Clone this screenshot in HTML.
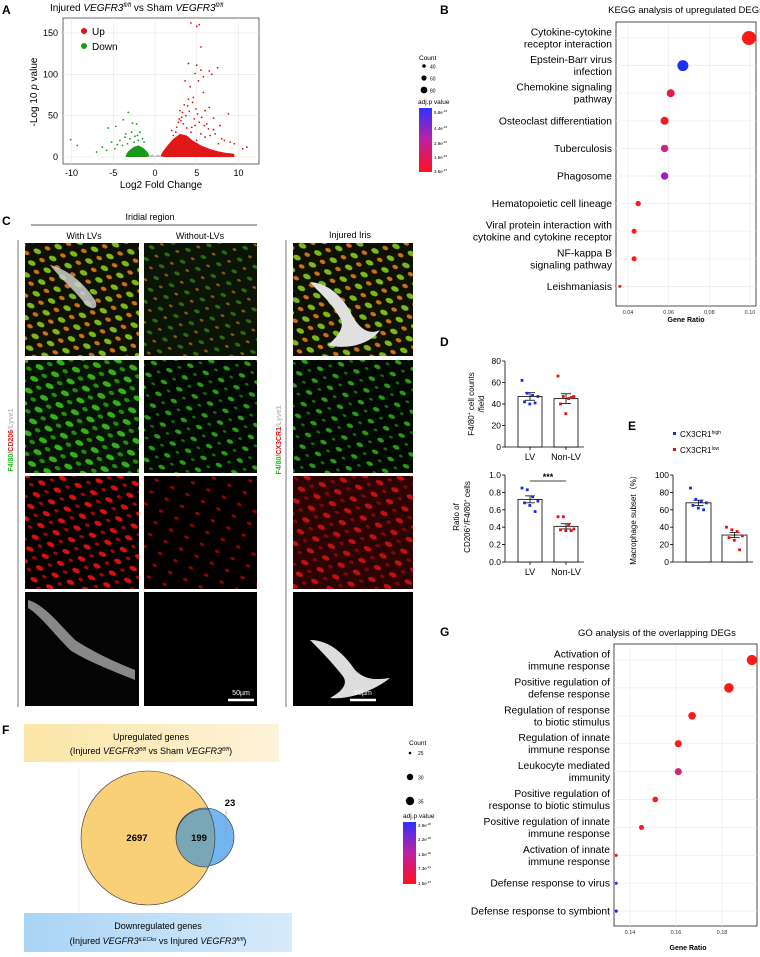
<!DOCTYPE html>
<html><head><meta charset="utf-8"><style>
body{margin:0;background:#fff;}
svg text{font-family:"Liberation Sans",sans-serif;}
</style></head><body>
<svg id="fig" width="760" height="952" viewBox="0 0 760 952" xmlns="http://www.w3.org/2000/svg">
<defs>
<linearGradient id="gB" x1="0" y1="0" x2="0" y2="1"><stop offset="0" stop-color="#3030ff"/><stop offset="0.5" stop-color="#c020a0"/><stop offset="1" stop-color="#ff1020"/></linearGradient>
<linearGradient id="yel" x1="0" y1="0" x2="1" y2="0"><stop offset="0" stop-color="#fbe6a6"/><stop offset="1" stop-color="#fdf3da"/></linearGradient>
<linearGradient id="blu" x1="0" y1="0" x2="1" y2="0"><stop offset="0" stop-color="#a9d3f5"/><stop offset="1" stop-color="#d6ebfb"/></linearGradient>
<pattern id="pGreenDense" width="17" height="13" patternUnits="userSpaceOnUse" patternTransform="rotate(25)"><rect width="17" height="13" fill="#061204"/><ellipse cx="4" cy="4" rx="4.5" ry="2.5" fill="#34b018"/><ellipse cx="12" cy="10" rx="3" ry="2" fill="#238a10"/></pattern>
<pattern id="pMerge1" width="17" height="13" patternUnits="userSpaceOnUse" patternTransform="rotate(25)"><rect width="17" height="13" fill="#0e1002"/><ellipse cx="4" cy="4" rx="4" ry="2.5" fill="#7cb81a"/><ellipse cx="12" cy="10" rx="3" ry="2" fill="#c8701a"/></pattern>
<pattern id="pMerge2" width="17" height="13" patternUnits="userSpaceOnUse" patternTransform="rotate(25)"><rect width="17" height="13" fill="#0a1505"/><ellipse cx="4" cy="4" rx="3" ry="1.8" fill="#2e6a12"/><ellipse cx="12" cy="10" rx="2" ry="1.3" fill="#8a5a12"/></pattern>
<pattern id="pGreenSparse" width="17" height="13" patternUnits="userSpaceOnUse" patternTransform="rotate(25)"><rect width="17" height="13" fill="#020802"/><ellipse cx="4" cy="4" rx="3.5" ry="2" fill="#2a9a16"/><ellipse cx="12" cy="10" rx="2" ry="1.3" fill="#186e0e"/></pattern>
<pattern id="pRedDense" width="17" height="13" patternUnits="userSpaceOnUse" patternTransform="rotate(25)"><rect width="17" height="13" fill="#030000"/><ellipse cx="4" cy="4" rx="4" ry="2.3" fill="#d81010"/><ellipse cx="12" cy="10" rx="2.5" ry="1.6" fill="#a00808"/></pattern>
<pattern id="pRedSparse" width="17" height="13" patternUnits="userSpaceOnUse" patternTransform="rotate(25)"><rect width="17" height="13" fill="#040000"/><ellipse cx="5" cy="5" rx="2.5" ry="1.5" fill="#8a0606"/></pattern>
<pattern id="pRedIris" width="17" height="13" patternUnits="userSpaceOnUse" patternTransform="rotate(25)"><rect width="17" height="13" fill="#2c0303"/><ellipse cx="4" cy="4" rx="4" ry="2.3" fill="#c01010"/><ellipse cx="12" cy="10" rx="2.5" ry="1.6" fill="#7a0808"/></pattern>
<clipPath id="cA"><rect x="63" y="18" width="196" height="146"/></clipPath>
</defs>

<!-- ===== Panel A ===== -->
<g>
<text x="2" y="14" font-size="12" font-weight="bold">A</text>
<text x="50" y="11" font-size="10">Injured <tspan font-style="italic">VEGFR3</tspan><tspan font-style="italic" font-size="6" dy="-4">fl/fl</tspan><tspan dy="4"> vs Sham </tspan><tspan font-style="italic">VEGFR3</tspan><tspan font-style="italic" font-size="6" dy="-4">fl/fl</tspan></text>
<rect x="63" y="18" width="196" height="146" fill="#fff" stroke="#444" stroke-width="0.8"/>
<g id="aGrid"></g>
<g id="aMarks" clip-path="url(#cA)"></g>
<g id="aAxes"></g>
<circle cx="84" cy="31" r="3" fill="#e01010"/>
<text x="92" y="35" font-size="10">Up</text>
<circle cx="84" cy="46" r="3" fill="#1a9a1a"/>
<text x="92" y="50" font-size="10">Down</text>
<text x="161" y="188" font-size="10" text-anchor="middle">Log2 Fold Change</text>
<text transform="translate(37,92) rotate(-90)" font-size="10" text-anchor="middle">-Log 10 <tspan font-style="italic">p</tspan> value</text>
</g>

<!-- ===== Panel B ===== -->
<g>
<text x="440" y="14" font-size="12" font-weight="bold">B</text>
<text x="686" y="13" font-size="9.5" text-anchor="middle">KEGG analysis of upregulated DEGs</text>
<rect x="616" y="22" width="140" height="284" fill="#fff" stroke="#222" stroke-width="0.8"/>
<g id="bPlot"></g>
<text x="686" y="322" font-size="7" font-weight="bold" text-anchor="middle">Gene Ratio</text>
<g>
<text x="419" y="60" font-size="6.5">Count</text>
<circle cx="424" cy="66" r="1.8" fill="#000"/><text x="430" y="68.5" font-size="5">40</text>
<circle cx="424" cy="78" r="2.6" fill="#000"/><text x="430" y="80.5" font-size="5">60</text>
<circle cx="424" cy="90" r="3.4" fill="#000"/><text x="430" y="92.5" font-size="5">80</text>
<text x="418" y="104" font-size="6.5">adj.p value</text>
<rect x="419" y="108" width="13" height="64" fill="url(#gB)"/>
<text x="434" y="114" font-size="4.5">5.8e<tspan font-size="3" dy="-2">-15</tspan></text>
<text x="434" y="130" font-size="4.5">4.4e<tspan font-size="3" dy="-2">-15</tspan></text>
<text x="434" y="145" font-size="4.5">2.9e<tspan font-size="3" dy="-2">-15</tspan></text>
<text x="434" y="159" font-size="4.5">1.5e<tspan font-size="3" dy="-2">-15</tspan></text>
<text x="434" y="173" font-size="4.5">3.6e<tspan font-size="3" dy="-2">-27</tspan></text>
</g>
</g>

<!-- ===== Panel C ===== -->
<g>
<text x="2" y="225" font-size="12" font-weight="bold">C</text>
<text x="150" y="220" font-size="9" text-anchor="middle">Iridial region</text>
<line x1="31" y1="225" x2="257" y2="225" stroke="#222" stroke-width="0.8"/>
<text x="84" y="239" font-size="9" text-anchor="middle">With LVs</text>
<text x="200" y="239" font-size="9" text-anchor="middle">Without-LVs</text>
<text x="350" y="238" font-size="9" text-anchor="middle">Injured Iris</text>
<line x1="18" y1="240" x2="18" y2="707" stroke="#555" stroke-width="0.8"/>
<line x1="286" y1="240" x2="286" y2="707" stroke="#555" stroke-width="0.8"/>
<text transform="translate(13,440) rotate(-90)" font-size="7" font-weight="bold" text-anchor="middle"><tspan fill="#22bb22">F4/80</tspan><tspan fill="#888">/</tspan><tspan fill="#e01010">CD206</tspan><tspan fill="#bbb">/Lyve1</tspan></text>
<text transform="translate(281,440) rotate(-90)" font-size="7" font-weight="bold" text-anchor="middle"><tspan fill="#22bb22">F4/80</tspan><tspan fill="#888">/</tspan><tspan fill="#e01010">CX3CR1</tspan><tspan fill="#bbb">/Lyve1</tspan></text>
<!-- row 1 -->
<rect x="25" y="243" width="114" height="113" fill="url(#pMerge1)"/>
<path d="M50 265 C70 270 85 285 95 300 C100 310 90 312 82 300 C72 288 60 278 50 265Z" fill="#ccc" opacity="0.85"/>
<rect x="144" y="243" width="113" height="113" fill="url(#pMerge2)"/>
<rect x="293" y="243" width="120" height="113" fill="url(#pMerge1)"/>
<path d="M310 282 C330 283 345 300 352 315 C360 330 370 335 380 330 C370 345 345 350 328 345 C340 335 345 325 340 318 C330 300 318 292 310 282Z" fill="#e0e0e0"/>
<!-- row 2 -->
<rect x="25" y="360" width="114" height="113" fill="url(#pGreenDense)"/>
<rect x="144" y="360" width="113" height="113" fill="url(#pGreenSparse)"/>
<rect x="293" y="360" width="120" height="113" fill="url(#pGreenSparse)"/>
<!-- row 3 -->
<rect x="25" y="476" width="114" height="113" fill="url(#pRedDense)"/>
<rect x="144" y="476" width="113" height="113" fill="url(#pRedSparse)"/>
<rect x="293" y="476" width="120" height="113" fill="url(#pRedIris)"/>
<!-- row 4 -->
<rect x="25" y="592" width="114" height="114" fill="#050505"/>
<path d="M28 600 C45 605 60 625 75 640 C90 650 110 660 135 670 L135 680 C110 670 85 660 70 650 C55 635 40 615 28 608Z" fill="#888"/>
<rect x="144" y="592" width="113" height="114" fill="#000"/>
<rect x="293" y="592" width="120" height="114" fill="#000"/>
<path d="M310 640 C330 640 345 655 355 670 C365 680 375 680 390 678 C375 690 350 700 330 698 C345 690 348 682 342 675 C330 660 320 650 310 640Z" fill="#ddd"/>
<line x1="228" y1="700" x2="254" y2="700" stroke="#fff" stroke-width="2.5"/>
<text x="241" y="695" font-size="7" fill="#fff" text-anchor="middle">50µm</text>
<line x1="350" y1="700" x2="376" y2="700" stroke="#fff" stroke-width="2.5"/>
<text x="363" y="695" font-size="7" fill="#fff" text-anchor="middle">50µm</text>
</g>

<!-- ===== Panel D ===== -->
<g>
<text x="440" y="346" font-size="12" font-weight="bold">D</text>
<g id="dTop"></g>
<g id="dBot"></g>
<text transform="translate(474,404) rotate(-90)" font-size="8" text-anchor="middle">F4/80<tspan font-size="5" dy="-3">+</tspan><tspan dy="3"> cell counts</tspan></text>
<text transform="translate(484,404) rotate(-90)" font-size="8" text-anchor="middle">/field</text>
<text transform="translate(459,517) rotate(-90)" font-size="8" text-anchor="middle">Ratio of</text>
<text transform="translate(470,517) rotate(-90)" font-size="8" text-anchor="middle">CD206<tspan font-size="5" dy="-3">+</tspan><tspan dy="3">/F4/80</tspan><tspan font-size="5" dy="-3">+</tspan><tspan dy="3"> cells</tspan></text>
</g>

<!-- ===== Panel E ===== -->
<g>
<text x="628" y="430" font-size="12" font-weight="bold">E</text>
<rect x="673" y="432" width="3" height="3" fill="#1030e0"/>
<text x="680" y="437" font-size="8">CX3CR1<tspan font-size="5" dy="-3">high</tspan></text>
<rect x="673" y="448" width="3" height="3" fill="#e01010"/>
<text x="680" y="453" font-size="8">CX3CR1<tspan font-size="5" dy="-3">low</tspan></text>
<g id="ePlot"></g>
<text transform="translate(636,518) rotate(-90)" font-size="8" text-anchor="middle">Macrophage subset（%）</text>
</g>

<!-- ===== Panel F ===== -->
<g>
<text x="2" y="734" font-size="12" font-weight="bold">F</text>
<rect x="24" y="724" width="255" height="38" fill="url(#yel)"/>
<text x="151" y="740" font-size="9" text-anchor="middle">Upregulated genes</text>
<text x="151" y="754" font-size="9" text-anchor="middle">(Injured <tspan font-style="italic">VEGFR3</tspan><tspan font-style="italic" font-size="5.5" dy="-3">fl/fl</tspan><tspan dy="3"> vs Sham </tspan><tspan font-style="italic">VEGFR3</tspan><tspan font-style="italic" font-size="5.5" dy="-3">fl/fl</tspan><tspan dy="3">)</tspan></text>
<line x1="79" y1="768" x2="79" y2="912" stroke="#eee" stroke-width="0.8"/>
<circle cx="148" cy="838" r="67" fill="#f9cf77" stroke="#333" stroke-width="0.6"/>
<circle cx="205" cy="837" r="29" fill="#74b4ef" stroke="#333" stroke-width="0.6"/>
<path d="M208.5 809.2 A29 29 0 1 0 208.5 866.8 A67 67 0 0 0 208.5 809.2Z" fill="#7aa7b6" stroke="#333" stroke-width="0.6"/>
<line x1="226" y1="810" x2="226" y2="836" stroke="#999" stroke-width="0.6"/>
<text x="137" y="841" font-size="9.5" font-weight="bold" text-anchor="middle">2697</text>
<text x="199" y="841" font-size="9.5" font-weight="bold" text-anchor="middle">199</text>
<text x="230" y="806" font-size="9.5" font-weight="bold" text-anchor="middle">23</text>
<rect x="24" y="913" width="268" height="39" fill="url(#blu)"/>
<text x="158" y="929" font-size="9" text-anchor="middle">Downregulated genes</text>
<text x="158" y="944" font-size="9" text-anchor="middle">(Injured <tspan font-style="italic">VEGFR3</tspan><tspan font-style="italic" font-size="5.5" dy="-3">iLECko</tspan><tspan dy="3"> vs Injured </tspan><tspan font-style="italic">VEGFR3</tspan><tspan font-style="italic" font-size="5.5" dy="-3">fl/fl</tspan><tspan dy="3">)</tspan></text>
</g>

<!-- ===== Panel G ===== -->
<g>
<text x="440" y="636" font-size="12" font-weight="bold">G</text>
<text x="657" y="636" font-size="9.5" text-anchor="middle">GO analysis of the overlapping DEGs</text>
<rect x="614" y="644" width="143" height="282" fill="#fff" stroke="#222" stroke-width="0.8"/>
<g id="gPlot"></g>
<text x="688" y="950" font-size="7" font-weight="bold" text-anchor="middle">Gene Ratio</text>
<g>
<text x="409" y="745" font-size="6.5">Count</text>
<circle cx="410" cy="753" r="1.3" fill="#000"/><text x="418" y="755" font-size="5">25</text>
<circle cx="410" cy="777" r="3.2" fill="#000"/><text x="418" y="779.5" font-size="5">30</text>
<circle cx="410" cy="801" r="4.2" fill="#000"/><text x="418" y="803.5" font-size="5">35</text>
<text x="403" y="818" font-size="6.5">adj.p value</text>
<rect x="403" y="822" width="13" height="62" fill="url(#gB)"/>
<text x="418" y="827" font-size="4.5">2.9e<tspan font-size="3" dy="-2">-20</tspan></text>
<text x="418" y="841" font-size="4.5">2.2e<tspan font-size="3" dy="-2">-20</tspan></text>
<text x="418" y="856" font-size="4.5">1.5e<tspan font-size="3" dy="-2">-20</tspan></text>
<text x="418" y="870" font-size="4.5">7.3e<tspan font-size="3" dy="-2">-21</tspan></text>
<text x="418" y="885" font-size="4.5">1.5e<tspan font-size="3" dy="-2">-27</tspan></text>
</g>
</g>
</svg>

<script>
// ---------- Panel A data ----------
const aXTicks = [-10, -5, 0, 5, 10];
const aYTicks = [0, 50, 100, 150];
const upCloud = [[0.6,0],[0.9,6],[1.5,14],[2.2,22],[3,28],[3.8,26],[4.5,20],[5.5,14],[6.5,10],[7.5,7],[8.5,5],[9.5,4],[9.5,0]];
const downCloud = [[-0.6,0],[-0.9,6],[-1.4,11],[-2,14],[-2.6,12],[-3.2,7],[-3.5,2],[-3.5,0]];
const greyCloud = [[-1,0],[-0.3,3],[0,0.5],[0.3,3],[1,0]];
const upX = [4.3,5,5.3,5.5,4,5,4.8,5.5,6.8,6.5,5.8,7.5,3.6,4.2,4.6,5.2,5.8,3,3.5,4,4.5,6,6.5,7,7.8,8.8,3.2,2.8,3.8,4.3,5.5,6.2,7,8,9.5,11,10.5,5,6,3.5,4.8,2.5,2,2.6,3.1,3.7,4.1,4.7,5.3,5.9,6.4,7.2,8.3,9,2.2,3.4,4.4,5.6,6.6,7.6,3.9,4.9,5.1,2.9,3.3];
const upY = [162,158,160,133,113,111,101,105,100,104,97,108,92,85,72,92,78,56,63,70,66,56,60,47,38,52,48,42,35,30,28,40,33,22,16,12,10,20,24,18,38,30,32,36,44,50,55,46,42,38,34,28,20,18,26,40,36,48,26,16,62,58,52,46,54];
const downX = [-3.2,-3.8,-5.6,-4.7,-10.1,-9.3,-2.7,-2.2,-3.5,-2.8,-4.2,-5.2,-6.3,-1.8,-2.4,-3.0,-4.5,-1.5,-2,-2.5,-3.3,-3.9,-4.8,-5.8,-7,-2.1,-1.3,-3.6];
const downY = [54,45,35,37,21,14,41,40,28,30,20,18,12,30,25,22,15,22,20,18,16,14,10,8,6,26,18,24];
const ax = v => 155 + v*8.35;
const ay = v => 157 - v*0.827;
const NS='http://www.w3.org/2000/svg';
function mk(tag, attrs, parent, txt){const e=document.createElementNS(NS,tag);for(const k in attrs)e.setAttribute(k,attrs[k]);if(txt!==undefined)e.textContent=txt;parent.appendChild(e);return e;}
(function(){
 const g=document.getElementById('aGrid'), m=document.getElementById('aMarks'), axs=document.getElementById('aAxes');
 aXTicks.forEach(t=>{const l=mk('line',{x1:ax(t),x2:ax(t),y1:18,y2:164,stroke:'#e6e6e6','stroke-width':0.6},g);
  
  
  const tx=mk('text',{x:ax(t),y:176,'font-size':9,'text-anchor':'middle'},axs,String(t));
  
  });
 aYTicks.forEach(t=>{mk('line',{x1:63,x2:259,y1:ay(t),y2:ay(t),stroke:'#e6e6e6','stroke-width':0.6},g);
  const tx=mk('text',{x:58,y:ay(t)+3,'font-size':9,'text-anchor':'end'},axs,String(t));
  
  });
 const poly=(pts,fill,name)=>{const p=mk('polygon',{points:pts.map(q=>ax(q[0])+','+ay(q[1])).join(' '),fill:fill},m);
  
  };
 poly(upCloud,'#e01818','up-dense-cloud');
 poly(downCloud,'#1a9a1a','down-dense-cloud');
 poly(greyCloud,'#bbbbbb','ns-cloud');
 upX.forEach((x,i)=>{const c=mk('circle',{cx:ax(x),cy:ay(upY[i]),r:0.9,fill:'#e01010'},m);
  
  });
 downX.forEach((x,i)=>{const c=mk('circle',{cx:ax(x),cy:ay(downY[i]),r:0.9,fill:'#1a9a1a'},m);
  
  });
})();

// ---------- Panel B data ----------
const keggTerms = [["Cytokine-cytokine","receptor interaction"],["Epstein-Barr virus","infection"],["Chemokine signaling","pathway"],["Osteoclast differentiation"],["Tuberculosis"],["Phagosome"],["Hematopoietic cell lineage"],["Viral protein interaction with","cytokine and cytokine receptor"],["NF-kappa B","signaling pathway"],["Leishmaniasis"]];
const keggRatio = [0.0995,0.067,0.061,0.058,0.058,0.058,0.045,0.043,0.043,0.036];
const keggCount = [85,70,55,55,52,52,42,40,40,30];
const keggColor = ["#ff1a1a","#2030f0","#e81848","#f81820","#d0208a","#a020c0","#ff1a1a","#ff1a1a","#ff1a1a","#ff1a1a"];
const keggTicks = [0.04,0.06,0.08,0.10];
// ---------- Panel G data ----------
const goTerms = [["Activation of","immune response"],["Positive regulation of","defense response"],["Regulation of response","to biotic stimulus"],["Regulation of innate","immune response"],["Leukocyte mediated","immunity"],["Positive regulation of","response to biotic stimulus"],["Positive regulation of innate","immune response"],["Activation of innate","immune response"],["Defense response to virus"],["Defense response to symbiont"]];
const goRatio = [0.193,0.183,0.167,0.161,0.161,0.151,0.145,0.134,0.134,0.134];
const goCount = [36,35,32,31,31,29,28,25,25,25];
const goColor = ["#ff1a1a","#ff1a1a","#ff1a1a","#ff1a1a","#d82070","#ff1a1a","#ff1a1a","#ff1a1a","#7020f0","#2020ff"];
const goTicks = [0.14,0.16,0.18];

function dotPlot(id, terms, ratio, count, color, ticks, x0, r0, x1, r1, top, step, left, right, bottom, rScale, prefix){
 const G=document.getElementById(id);
 const sx=v=>x0+(v-r0)*(x1-x0)/(r1-r0);
 ticks.forEach(t=>{mk('line',{x1:sx(t),x2:sx(t),y1:top-14,y2:bottom,stroke:'#ececec','stroke-width':0.7},G);
  const tx=mk('text',{x:sx(t),y:bottom+8,'font-size':5.5,'text-anchor':'middle',fill:'#333'},G,t.toFixed(2));
  
  });
 terms.forEach((lines,i)=>{const y=top+i*step;
  mk('line',{x1:left,x2:right,y1:y,y2:y,stroke:'#ececec','stroke-width':0.7},G);
  lines.forEach((s,j)=>{const ty=y+3.5+(j-(lines.length-1)/2)*12;
   const tx=mk('text',{x:left-4,y:ty,'font-size':10.3,'text-anchor':'end'},G,s);
   
   });
  const c=mk('circle',{cx:sx(ratio[i]),cy:y,r:rScale(count[i]),fill:color[i]},G);
  
  });
}
dotPlot('bPlot',keggTerms,keggRatio,keggCount,keggColor,keggTicks,628,0.04,750,0.10,38,27.6,616,756,306,c=>1.5+(c-30)*0.1,'kegg');
dotPlot('gPlot',goTerms,goRatio,goCount,goColor,goTicks,630,0.14,722,0.18,660,27.9,614,757,926,c=>1.6+(c-25)*0.32,'go');

// ---------- Panels D/E data ----------
const dCats = ["LV","Non-LV"];
const dCountMean = [47,45];
const dCountSem = [3.5,4.5];
const dCountLV = [62,50,48,47,42,40,41];
const dCountNon = [66,47,45,47,40,31,46];
const dCountTicks = [0,20,40,60,80];
const dRatioMean = [0.72,0.41];
const dRatioSem = [0.04,0.03];
const dRatioLV = [0.85,0.83,0.75,0.70,0.68,0.65,0.58];
const dRatioNon = [0.52,0.52,0.42,0.38,0.37,0.36,0.36];
const dRatioTicks = [0,0.2,0.4,0.6,0.8,1.0];
const eMean = [68,31];
const eSem = [3,3];
const eHigh = [85,72,70,68,65,62,60];
const eLow = [40,37,35,30,28,25,14];
const eTicks = [0,20,40,60,80,100];

function barPlot(id, axX, yTop, yBot, max, ticks, fmt, means, sems, pts, bx, bw, cats, prefix){
 const G=document.getElementById(id);
 const sy=v=>yBot-(v/max)*(yBot-yTop);
 mk('line',{x1:axX,x2:axX,y1:yTop,y2:yBot,stroke:'#000','stroke-width':0.8},G);
 ticks.forEach(t=>{mk('line',{x1:axX-3,x2:axX,y1:sy(t),y2:sy(t),stroke:'#000','stroke-width':0.8},G);
  const tx=mk('text',{x:axX-4,y:sy(t)+3,'font-size':8.5,'text-anchor':'end'},G,fmt(t));
  
  });
 mk('line',{x1:axX,x2:bx[1]+bw+6,y1:yBot,y2:yBot,stroke:'#000','stroke-width':0.8},G);
 const cols=['#1030e0','#e01010'];
 means.forEach((m,i)=>{const x=bx[i];
  const r=mk('rect',{x:x,y:sy(m),width:bw,height:yBot-sy(m),fill:'#fff',stroke:'#000','stroke-width':0.8},G);
  
  
  const cx=x+bw/2;
  mk('line',{x1:cx,x2:cx,y1:sy(m+sems[i]),y2:sy(m-sems[i]),stroke:'#000','stroke-width':0.8},G);
  mk('line',{x1:cx-5,x2:cx+5,y1:sy(m+sems[i]),y2:sy(m+sems[i]),stroke:'#000','stroke-width':0.8},G);
  mk('line',{x1:cx-5,x2:cx+5,y1:sy(m-sems[i]),y2:sy(m-sems[i]),stroke:'#000','stroke-width':0.8},G);
  pts[i].forEach((v,j)=>{const px=cx-8+(j%4)*5.3+(j>=4?2.5:0);
   const p=mk('rect',{x:px-1.4,y:sy(v)-1.4,width:2.8,height:2.8,fill:cols[i]},G);
   
   });
  if(cats){mk('line',{x1:cx,x2:cx,y1:yBot,y2:yBot+3,stroke:'#000','stroke-width':0.8},G);
   const tx=mk('text',{x:cx,y:yBot+13,'font-size':9,'text-anchor':'middle'},G,cats[i]);
   
   }
 });
 return sy;
}
barPlot('dTop',505,361,447,80,dCountTicks,t=>String(t),dCountMean,dCountSem,[dCountLV,dCountNon],[518,554],24,dCats,'d-count');
barPlot('dBot',505,475,562,1.0,dRatioTicks,t=>t.toFixed(1),dRatioMean,dRatioSem,[dRatioLV,dRatioNon],[518,554],24,dCats,'d-ratio');
(function(){const G=document.getElementById('dBot');
 mk('line',{x1:530,x2:566,y1:481,y2:481,stroke:'#000','stroke-width':0.8},G);
 const t=mk('text',{x:548,y:480,'font-size':9,'text-anchor':'middle','font-weight':'bold'},G,'***');
 
 })();
barPlot('ePlot',673,475,562,100,eTicks,t=>String(t),eMean,eSem,[eHigh,eLow],[686,722],25,null,'e');
</script>
</body></html>
